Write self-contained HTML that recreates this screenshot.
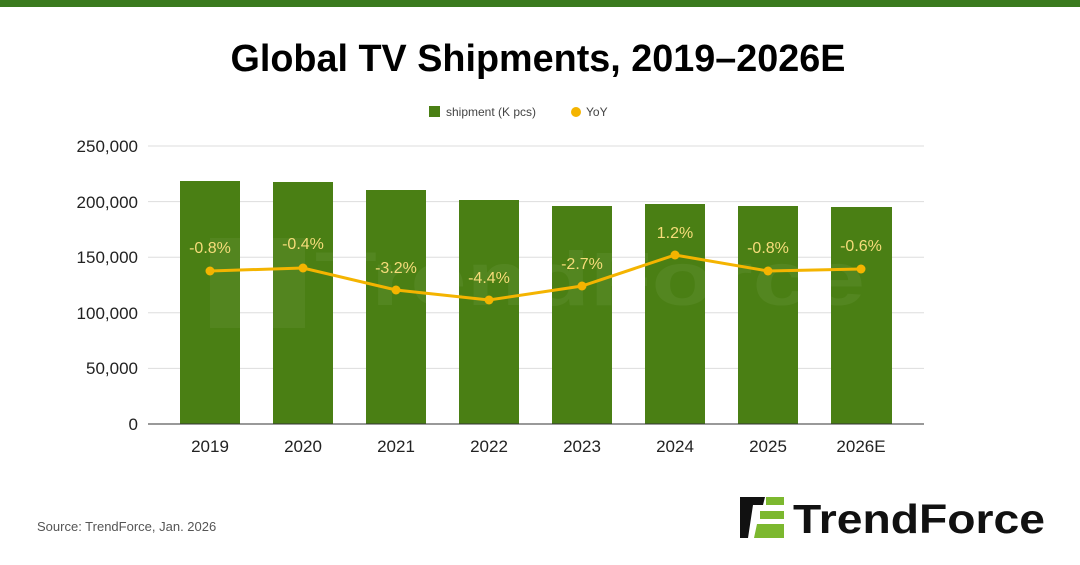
<!DOCTYPE html>
<html><head><meta charset="utf-8"><style>
body{margin:0;width:1080px;height:560px;background:#fff;overflow:hidden;font-family:"Liberation Sans",sans-serif}
</style></head><body>
<svg width="1080" height="560" xmlns="http://www.w3.org/2000/svg" font-family="Liberation Sans, sans-serif">
<rect x="0" y="0" width="1080" height="7" fill="#3a7a1e"/>
<text x="538" y="71" text-anchor="middle" font-size="38" font-weight="bold" fill="#000" textLength="615" lengthAdjust="spacingAndGlyphs">Global TV Shipments, 2019–2026E</text>
<rect x="429" y="106" width="11" height="11" fill="#4a7f14"/>
<text x="446" y="116" font-size="12" fill="#444">shipment (K pcs)</text>
<circle cx="576" cy="112" r="5" fill="#f4b400"/>
<text x="586" y="116" font-size="12" fill="#444">YoY</text>
<g stroke="#ddd" stroke-width="1">
<line x1="148" x2="924" y1="146" y2="146"/><line x1="148" x2="924" y1="201.6" y2="201.6"/>
<line x1="148" x2="924" y1="257.2" y2="257.2"/><line x1="148" x2="924" y1="312.8" y2="312.8"/>
<line x1="148" x2="924" y1="368.4" y2="368.4"/>
</g>
<g font-size="17" fill="#222" text-anchor="end">
<text x="138" y="152">250,000</text><text x="138" y="208">200,000</text><text x="138" y="263">150,000</text>
<text x="138" y="319">100,000</text><text x="138" y="374">50,000</text><text x="138" y="430">0</text>
</g>
<g fill="#4a7f14">
<rect x="180" y="181" width="60" height="243"/><rect x="273" y="182" width="60" height="242"/>
<rect x="366" y="190" width="60" height="234"/><rect x="459" y="200" width="60" height="224"/>
<rect x="552" y="206" width="60" height="218"/><rect x="645" y="204" width="60" height="220"/>
<rect x="738" y="206" width="60" height="218"/><rect x="831" y="207" width="61" height="217"/>
</g>
<text x="315" y="305" font-size="76" font-weight="bold" fill="#fff" opacity="0.05" textLength="550" lengthAdjust="spacingAndGlyphs">TrendForce</text>
<rect x="210" y="238" width="95" height="90" fill="#fff" opacity="0.05"/>
<line x1="148" x2="924" y1="424" y2="424" stroke="#333" stroke-width="1"/>
<polyline points="210,271 303,268 396,290 489,300 582,286 675,255 768,271 861,269" fill="none" stroke="#f4b400" stroke-width="3"/>
<g fill="#f4b400">
<circle cx="210" cy="271" r="4.5"/><circle cx="303" cy="268" r="4.5"/><circle cx="396" cy="290" r="4.5"/><circle cx="489" cy="300" r="4.5"/>
<circle cx="582" cy="286" r="4.5"/><circle cx="675" cy="255" r="4.5"/><circle cx="768" cy="271" r="4.5"/><circle cx="861" cy="269" r="4.5"/>
</g>
<g font-size="16" fill="#f6dc7a" text-anchor="middle">
<text x="210" y="253">-0.8%</text><text x="303" y="249">-0.4%</text><text x="396" y="273">-3.2%</text><text x="489" y="283">-4.4%</text>
<text x="582" y="269">-2.7%</text><text x="675" y="238">1.2%</text><text x="768" y="253">-0.8%</text><text x="861" y="251">-0.6%</text>
</g>
<g font-size="17" fill="#222" text-anchor="middle">
<text x="210" y="452">2019</text><text x="303" y="452">2020</text><text x="396" y="452">2021</text><text x="489" y="452">2022</text>
<text x="582" y="452">2023</text><text x="675" y="452">2024</text><text x="768" y="452">2025</text><text x="861" y="452">2026E</text>
</g>
<text x="37" y="531" font-size="13" fill="#555">Source: TrendForce, Jan. 2026</text>
<path d="M740,497 L765,497 L763,505 L753,505 L748,538 L740,538 Z" fill="#111"/>
<path d="M766,497 L784,497 L784,505 L766,505 Z M760,511 L784,511 L784,519 L760,519 Z M757,524 L784,524 L784,538 L754,538 Z" fill="#7cb82f"/>
<text x="793" y="533" font-size="41" font-weight="bold" fill="#111" textLength="252" lengthAdjust="spacingAndGlyphs">TrendForce</text>
</svg>
</body></html>
